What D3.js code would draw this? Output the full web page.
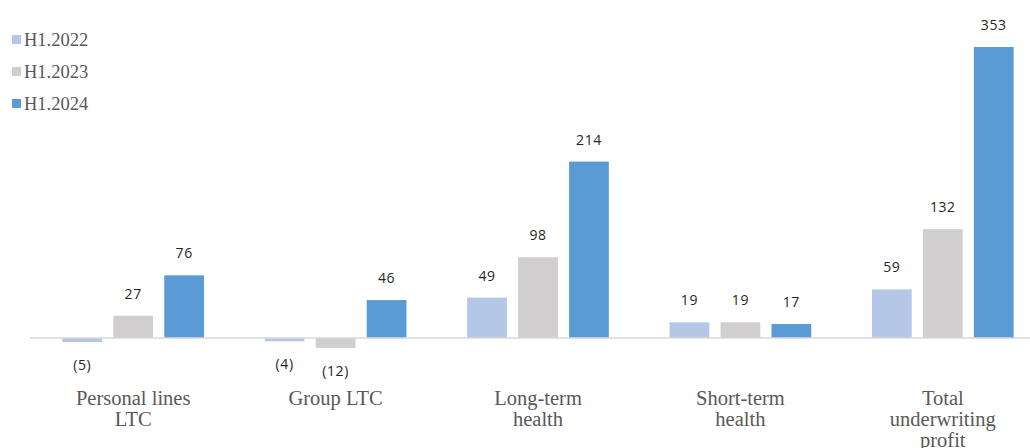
<!DOCTYPE html>
<html>
<head>
<meta charset="utf-8">
<script src="https://cdn.jsdelivr.net/npm/d3@7"></script>
<style>
  body { margin: 0; background: #fff; }
  .cat { font-family: "Liberation Serif", "Times New Roman", serif; font-size: 20.5px; fill: #595959; }
  .legend text { font-family: "Liberation Serif", "Times New Roman", serif; font-size: 18.5px; fill: #595959; }
  .val { font-family: "Open Sans", sans-serif; font-size: 14px; fill: #262626; letter-spacing: 0.6px; }
</style>
</head>
<body>
<div id="chart"></div>
<script>
var categories = [['Personal lines', 'LTC'], ['Group LTC'], ['Long-term', 'health'], ['Short-term', 'health'], ['Total', 'underwriting', 'profit']];
var seriesNames = ['H1.2022', 'H1.2023', 'H1.2024'];
var h2022 = [-5, -4, 49, 19, 59];
var h2023 = [27, -12, 98, 19, 132];
var h2024 = [76, 46, 214, 17, 353];
var colors = ['#b4c7e7', '#d0cece', '#5b9bd5'];

var width = 1030, height = 448;
var svg = d3.select('#chart').append('svg')
  .attr('width', width)
  .attr('height', height);

var series = [h2022, h2023, h2024];
var rows = categories.map(function(c, i) {
  return { name: c, values: series.map(function(s, j) { return { key: seriesNames[j], value: s[i], k: j }; }) };
});

var x0 = d3.scaleBand().domain(d3.range(categories.length)).range([32, 1044]).paddingInner(0.3).paddingOuter(0.15);
var x1 = d3.scaleBand().domain(d3.range(seriesNames.length)).range([0, x0.bandwidth()]).paddingInner(0.22);
var y = d3.scaleLinear().domain([0, 353]).range([338, 47]);

var groups = svg.selectAll('g.grp').data(rows).enter().append('g')
  .attr('class', 'grp')
  .attr('transform', function(d, i) { return 'translate(' + x0(i) + ',0)'; });

groups.selectAll('rect').data(function(d) { return d.values; }).enter().append('rect')
  .attr('x', function(d) { return x1(d.k); })
  .attr('width', x1.bandwidth())
  .attr('y', function(d) { return y(Math.max(0, d.value)); })
  .attr('height', function(d) { return Math.abs(y(d.value) - y(0)); })
  .attr('fill', function(d) { return colors[d.k]; });

groups.selectAll('text.val').data(function(d) { return d.values; }).enter().append('text')
  .attr('class', 'val')
  .attr('text-anchor', 'middle')
  .attr('x', function(d) { return x1(d.k) + x1.bandwidth() / 2; })
  .attr('y', function(d) { return d.value >= 0 ? y(d.value) - 17 : y(d.value) + 28; })
  .text(function(d) { return d.value < 0 ? '(' + (-d.value) + ')' : d.value; });

// zero line
svg.append('line')
  .attr('x1', 30).attr('x2', width)
  .attr('y1', y(0)).attr('y2', y(0))
  .attr('stroke', '#d9d9d9').attr('stroke-width', 1.5);

// category labels
var cat = svg.selectAll('text.cat').data(rows).enter().append('text')
  .attr('class', 'cat')
  .attr('text-anchor', 'middle')
  .attr('x', function(d, i) { return x0(i) + x0.bandwidth() / 2; })
  .attr('y', 405);
cat.selectAll('tspan').data(function(d) { return d.name; }).enter().append('tspan')
  .attr('x', function() { return d3.select(this.parentNode).attr('x'); })
  .attr('dy', function(d, i) { return i === 0 ? 0 : 21; })
  .text(function(d) { return d; });

// legend
var legend = svg.append('g').attr('class', 'legend');
var li = legend.selectAll('g').data(seriesNames).enter().append('g')
  .attr('transform', function(d, i) { return 'translate(12,' + (40 + i * 32) + ')'; });
li.append('rect').attr('x', 0).attr('y', -5).attr('width', 9).attr('height', 9)
  .attr('fill', function(d, i) { return colors[i]; });
li.append('text').attr('x', 12).attr('y', 6).text(function(d) { return d; });
</script>
</body>
</html>
